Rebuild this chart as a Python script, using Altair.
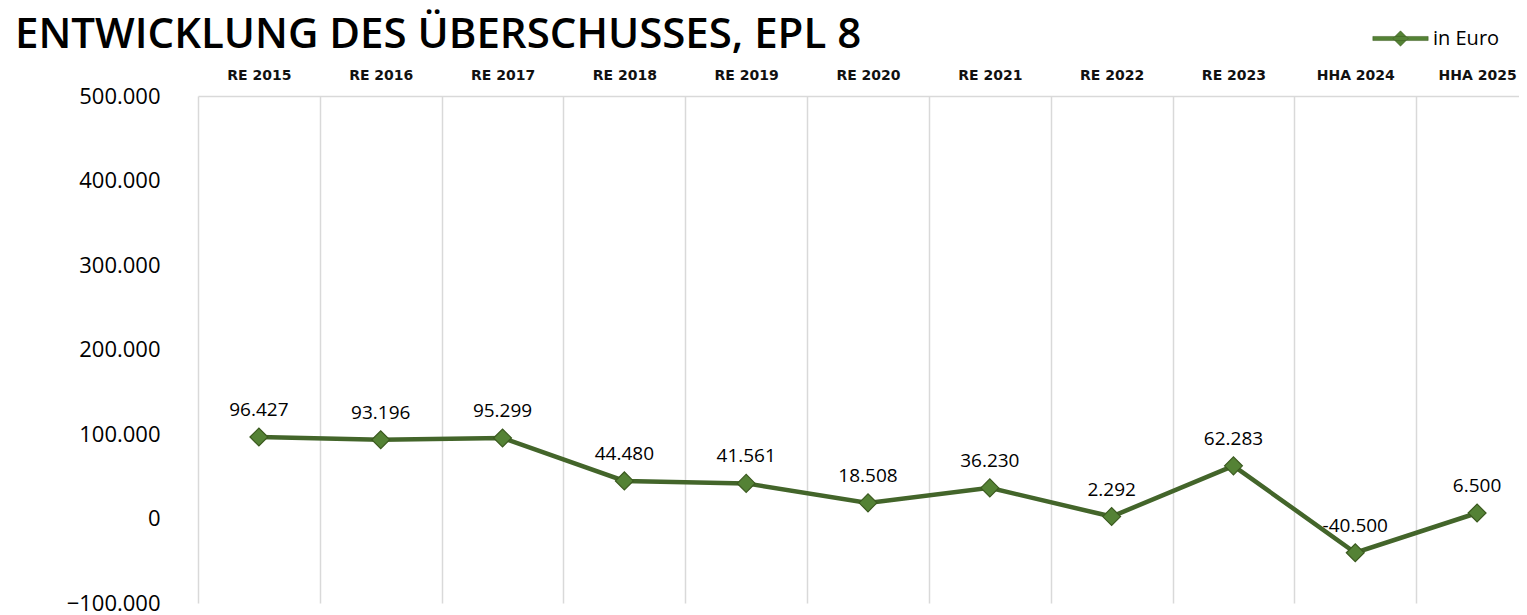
import altair as alt
import pandas as pd

categories = ["RE 2015", "RE 2016", "RE 2017", "RE 2018", "RE 2019", "RE 2020",
              "RE 2021", "RE 2022", "RE 2023", "HHA 2024", "HHA 2025"]
values = [96427, 93196, 95299, 44480, 41561, 18508, 36230, 2292, 62283, -40500, 6500]
series_name = "in Euro"
y_ticks = [-100000, 0, 100000, 200000, 300000, 400000, 500000]


def de_fmt(v):
    s = f"{abs(v):,}".replace(",", ".")
    return ("-" if v < 0 else "") + s


df = pd.DataFrame({
    "cat": categories,
    "val": values,
    "series": [series_name] * len(values),
    "label": [de_fmt(v) for v in values],
})

LINE = "#43652a"
FILL = "#548235"
EDGE = "#3b5a1f"
FONT = "Open Sans"

x = alt.X("cat:N", sort=categories, title=None,
          scale=alt.Scale(range=[0, 1340], paddingInner=0, paddingOuter=0),
          axis=alt.Axis(orient="top", ticks=False, grid=True, tickBand="extent",
                        gridColor="#d9d9d9", gridWidth=1.5,
                        domainColor="#d9d9d9", domainWidth=1.5,
                        labelFont="DejaVu Sans", labelFontSize=14, labelFontWeight=600,
                        labelColor="#111111", labelPadding=14, labelAngle=0))
y = alt.Y("val:Q", title=None,
          scale=alt.Scale(domain=[-100000, 500000], nice=False, zero=False),
          axis=alt.Axis(values=y_ticks, grid=False, ticks=False, domain=False,
                        labelFont=FONT, labelFontSize=22, labelColor="#000000",
                        labelPadding=38, format=",.0f"))

base = alt.Chart(df)

line = base.mark_line(color=LINE, strokeWidth=4.5).encode(x=x, y=y)

symbol_path = ("M -2.7 -0.2 L 2.7 -0.2 L 2.7 0.2 L -2.7 0.2 Z "
               "M 0 -0.75 L 0.75 0 L 0 0.75 L -0.75 0 Z")

points = base.mark_point(shape="diamond", filled=True, size=320, opacity=1,
                         stroke=EDGE, strokeWidth=1.2).encode(
    x=x, y=y,
    color=alt.Color("series:N", scale=alt.Scale(range=[FILL]), title=None,
                    legend=alt.Legend(orient="none", legendX=1192, legendY=-68,
                                      symbolType=symbol_path, symbolSize=420,
                                      symbolStrokeColor=EDGE, symbolStrokeWidth=0.5,
                                      labelFont=FONT, labelFontSize=20,
                                      labelColor="#000000", labelOffset=22)))

labels = base.mark_text(font=FONT, fontSize=19, color="#000000",
                        baseline="alphabetic", dy=-21).encode(
    x=x, y=y, text="label:N")

chart = alt.layer(line, points, labels).properties(
    width=1321, height=507,
    padding={"left": 190, "top": 88, "right": 0, "bottom": 12},
    autosize=alt.AutoSizeParams(type="none"),
    title=alt.TitleParams("ENTWICKLUNG DES ÜBERSCHUSSES, EPL 8", anchor="start",
                          frame="group", dx=-183, offset=-29,
                          font=FONT, fontSize=42, fontWeight=600, color="#000000"),
).configure_view(stroke=None)

chart.save("out.html", embed_options={
    "renderer": "svg", "actions": False,
    "formatLocale": {"decimal": ",", "thousands": ".", "grouping": [3],
                     "currency": ["", " €"]},
})
